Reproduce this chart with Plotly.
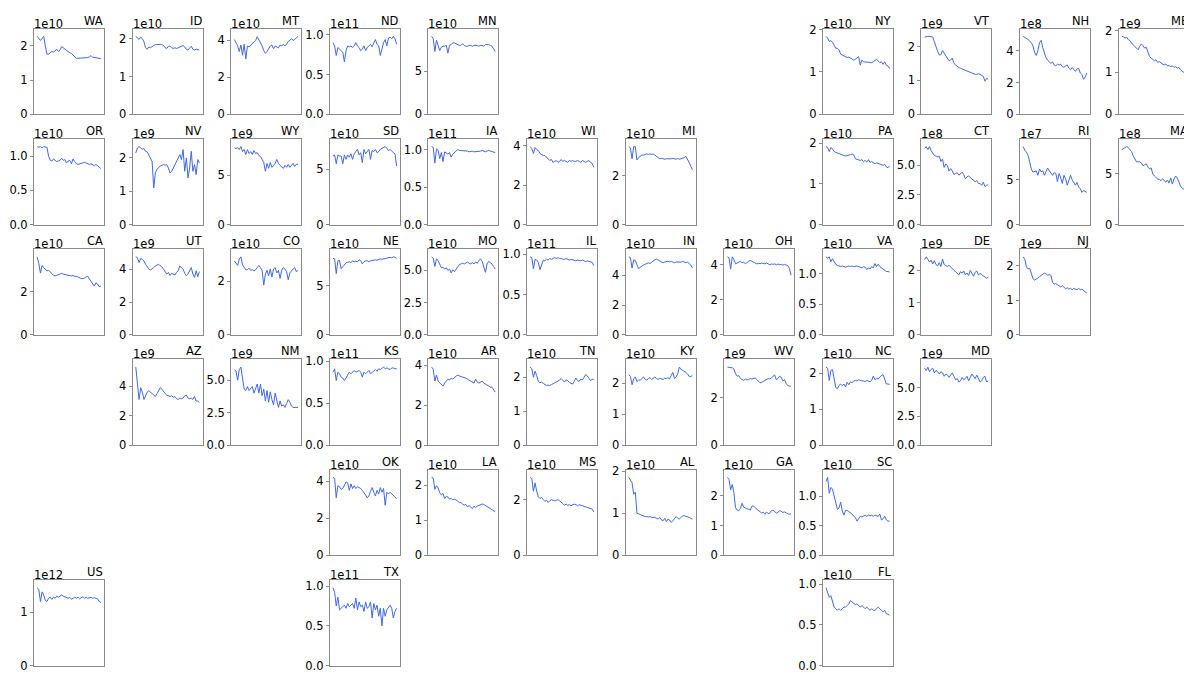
import plotly.graph_objects as go

# ---------------- data (values in units of the panel's exponent) ----------------
WA = [2.28,2.2,2.16,2.22,2.28,2.0,1.76,1.76,1.8,1.84,1.82,1.86,1.9,1.84,1.88,1.98,1.94,1.9,1.86,1.84,1.8,1.78,1.74,1.68,1.64,1.64,1.64,1.64,1.65,1.66,1.64,1.66,1.68,1.72,1.67,1.66,1.65,1.64,1.64,1.63]
ID = [2.06,2.02,1.98,2.04,2.0,1.92,1.76,1.72,1.78,1.76,1.8,1.82,1.84,1.85,1.84,1.85,1.84,1.82,1.76,1.74,1.8,1.8,1.76,1.74,1.76,1.74,1.76,1.78,1.8,1.82,1.78,1.72,1.7,1.74,1.8,1.72,1.7,1.72,1.7,1.7]
MT = [4.05,3.9,3.7,3.4,3.75,3.2,3.8,3.0,3.7,3.65,3.75,3.8,3.9,4.0,4.2,4.05,3.85,3.7,3.45,3.3,3.4,3.6,3.7,3.75,3.55,3.7,3.65,3.6,3.75,3.7,3.8,3.7,3.8,3.95,4.0,4.1,4.0,4.05,4.15,4.22]
ND = [0.9,0.86,0.74,0.84,0.82,0.8,0.78,0.66,0.8,0.86,0.85,0.86,0.84,0.86,0.9,0.86,0.84,0.8,0.82,0.86,0.8,0.84,0.86,0.88,0.85,0.9,0.94,0.88,0.86,0.74,0.82,0.9,0.94,0.86,0.96,0.97,0.95,0.98,0.95,0.88]
MN = [9.05,8.8,7.3,8.6,8.0,7.4,7.8,7.9,7.9,8.0,7.1,8.0,8.1,8.3,8.3,8.2,8.1,8.0,8.0,8.2,8.0,7.9,7.9,8.0,8.0,7.9,8.0,8.0,8.0,7.9,8.0,8.0,7.9,8.1,8.1,8.1,8.0,7.9,7.6,7.3]
NY = [1.84,1.8,1.72,1.74,1.7,1.62,1.56,1.56,1.52,1.42,1.4,1.38,1.37,1.34,1.35,1.32,1.3,1.28,1.3,1.34,1.36,1.16,1.28,1.24,1.24,1.23,1.23,1.22,1.22,1.24,1.28,1.3,1.26,1.22,1.24,1.18,1.24,1.16,1.14,1.08]
VT = [2.28,2.3,2.3,2.3,2.3,2.28,2.14,1.98,1.86,1.75,1.76,1.88,1.8,1.72,1.62,1.58,1.6,1.66,1.5,1.46,1.4,1.38,1.36,1.34,1.32,1.3,1.28,1.26,1.22,1.2,1.19,1.18,1.18,1.2,1.18,1.16,1.12,0.98,1.06,1.04]
NH = [4.9,4.85,4.75,4.7,4.6,4.5,4.3,3.9,3.7,4.0,4.5,4.65,4.2,3.8,3.55,3.4,3.3,3.2,3.3,3.1,3.05,3.15,3.1,3.15,3.0,2.95,3.05,3.1,2.9,2.8,2.95,2.8,2.7,2.85,2.9,2.6,2.5,2.2,2.35,2.6]
ME = [1.86,1.85,1.82,1.84,1.78,1.76,1.7,1.66,1.6,1.56,1.54,1.62,1.68,1.64,1.58,1.6,1.48,1.38,1.34,1.32,1.28,1.3,1.24,1.26,1.22,1.2,1.18,1.2,1.16,1.16,1.14,1.16,1.12,1.14,1.1,1.12,1.06,1.04,1.0,0.97]
OR = [1.14,1.13,1.14,1.12,1.14,1.14,1.13,1.0,0.94,0.93,0.96,0.94,0.92,0.93,0.94,0.97,0.94,0.95,0.9,0.93,0.94,0.89,0.96,0.92,0.89,0.88,0.89,0.9,0.9,0.91,0.9,0.89,0.88,0.89,0.87,0.86,0.88,0.86,0.84,0.82]
NV = [2.15,2.3,2.34,2.3,2.26,2.28,2.2,2.18,2.1,2.0,1.9,1.1,1.55,1.66,1.72,1.76,1.78,1.8,1.78,1.8,1.7,1.55,1.6,1.7,1.8,1.9,2.0,2.1,1.95,2.25,1.6,2.0,1.4,1.7,2.2,1.6,1.8,1.5,1.95,1.85]
WY = [7.8,7.7,7.8,7.6,7.9,7.4,7.6,7.1,7.6,7.2,7.4,7.1,7.5,7.2,7.3,7.0,6.9,6.6,6.3,5.4,6.2,5.7,6.3,5.8,6.0,6.2,6.6,6.2,6.0,5.8,5.7,6.0,5.8,6.1,5.8,6.0,6.2,5.9,6.1,6.1]
SD = [6.2,6.3,5.5,6.3,6.2,6.2,5.5,6.3,5.9,6.3,6.1,6.4,5.9,6.4,6.6,6.8,6.3,6.5,5.6,6.8,6.4,6.6,6.8,5.9,6.7,6.6,6.8,6.5,6.6,6.8,6.9,7.0,7.05,6.9,6.7,6.8,6.6,6.5,6.4,5.3]
IA = [1.04,1.03,0.82,1.01,0.99,0.88,0.96,0.84,0.97,0.95,0.94,0.96,0.9,0.94,0.96,0.98,1.0,0.99,0.99,0.98,0.98,0.99,0.98,0.97,0.98,0.98,0.97,0.97,0.98,0.98,0.98,0.99,0.98,0.97,0.98,0.99,0.98,0.97,0.96,0.96]
WI = [3.95,3.85,3.6,3.9,3.8,3.75,3.6,3.55,3.5,3.5,3.4,3.3,3.25,3.3,3.15,3.2,3.25,3.15,3.2,3.3,3.2,3.25,3.2,3.15,3.25,3.2,3.25,3.2,3.2,3.25,3.2,3.15,3.25,3.2,3.15,3.2,3.25,3.15,3.1,2.9]
MI = [3.2,3.15,2.7,3.2,3.2,2.65,2.75,2.82,2.85,2.85,2.88,2.9,2.88,2.9,2.88,2.9,2.85,2.8,2.72,2.7,2.72,2.7,2.68,2.7,2.7,2.68,2.7,2.72,2.7,2.68,2.72,2.68,2.7,2.72,2.75,2.8,2.7,2.55,2.4,2.25]
PA = [1.92,1.9,1.8,1.9,1.86,1.8,1.78,1.76,1.74,1.72,1.7,1.7,1.69,1.7,1.7,1.72,1.74,1.72,1.62,1.6,1.6,1.58,1.6,1.55,1.58,1.54,1.6,1.53,1.55,1.52,1.5,1.52,1.5,1.5,1.48,1.46,1.48,1.42,1.4,1.45]
CT = [6.4,6.55,6.3,6.55,6.2,6.0,5.8,5.75,5.7,5.75,5.3,5.5,4.8,5.1,4.95,4.5,4.7,4.5,4.2,4.3,4.35,4.15,4.25,4.4,4.2,3.85,4.0,4.1,3.95,3.85,3.7,3.6,3.7,3.45,3.45,3.3,3.55,3.2,3.3,3.35]
RI = [8.7,8.3,8.1,7.7,7.0,6.2,5.85,5.9,6.0,5.5,6.2,5.9,6.0,5.5,5.9,6.3,6.0,5.8,5.5,5.8,5.7,4.8,5.7,5.2,4.6,5.5,5.1,4.4,4.9,5.5,5.0,4.6,4.4,4.7,4.2,4.0,3.6,3.8,3.7,3.6]
MA = [7.4,7.5,7.6,7.7,7.6,7.45,7.2,6.8,6.4,6.2,6.2,6.2,6.1,5.8,5.9,6.0,5.7,5.5,5.6,5.0,4.8,4.6,4.5,4.45,4.35,4.5,4.3,4.2,4.4,4.1,4.6,4.0,4.5,4.8,4.6,4.2,3.8,3.6,3.5,3.4]
CA = [3.6,3.3,2.85,3.2,3.1,3.0,2.95,2.98,2.9,2.85,2.75,2.72,2.75,2.8,2.82,2.84,2.8,2.78,2.78,2.76,2.74,2.72,2.74,2.7,2.7,2.66,2.62,2.6,2.6,2.62,2.68,2.7,2.58,2.46,2.32,2.25,2.4,2.35,2.22,2.25]
UT = [4.75,4.7,4.4,4.65,4.6,4.5,4.3,4.15,4.0,3.95,4.0,4.1,4.2,4.25,4.3,4.2,4.15,4.0,3.8,3.7,3.8,3.62,3.75,3.7,3.65,3.8,3.9,4.2,4.1,4.0,3.75,3.6,3.7,3.9,4.1,3.7,3.5,3.9,3.55,3.85]
CO = [2.75,2.65,2.58,2.82,2.9,2.6,2.5,2.42,2.42,2.48,2.4,2.42,2.38,2.42,2.5,2.58,2.5,2.4,1.85,2.25,2.4,2.2,2.45,2.15,2.45,2.5,2.3,2.4,2.1,2.4,2.5,2.45,2.35,2.05,2.3,2.4,2.45,2.5,2.35,2.4]
NE = [7.75,7.7,6.2,7.5,7.55,6.7,6.9,7.15,7.3,7.35,7.4,7.3,7.5,7.4,7.45,7.4,7.6,7.5,7.2,7.4,7.5,7.5,7.4,7.5,7.55,7.6,7.6,7.55,7.6,7.7,7.65,7.7,7.75,7.8,7.8,7.85,7.8,7.9,7.85,7.75]
MO = [6.05,5.95,5.3,5.9,5.75,5.4,5.2,5.25,5.1,5.2,5.0,5.1,4.8,5.05,4.9,5.1,5.3,5.45,5.5,5.55,5.5,5.6,5.65,5.55,5.5,5.6,5.5,5.65,5.55,5.75,5.9,5.7,5.3,4.85,5.5,5.7,5.6,5.5,5.3,5.1]
IL = [0.97,0.96,0.82,0.94,0.93,0.9,0.81,0.88,0.93,0.92,0.94,0.93,0.95,0.94,0.95,0.96,0.95,0.96,0.95,0.95,0.94,0.94,0.95,0.94,0.93,0.94,0.93,0.93,0.92,0.93,0.92,0.92,0.93,0.92,0.91,0.92,0.91,0.91,0.9,0.86]
IN = [5.25,5.2,4.5,5.05,5.0,4.7,4.45,4.55,4.65,4.7,4.75,4.8,4.85,4.8,4.9,5.0,5.05,5.1,5.05,5.0,4.9,4.85,4.9,4.95,4.95,4.9,4.95,4.9,4.85,4.9,4.9,4.85,4.9,4.95,4.9,4.85,4.9,4.8,4.7,4.5]
OH = [4.45,4.4,3.75,4.45,4.3,4.05,4.1,4.15,4.2,4.1,4.15,4.05,4.15,4.2,4.25,4.2,4.15,4.1,4.05,4.08,4.06,4.1,4.06,4.05,4.1,4.05,4.0,4.05,4.02,4.05,4.0,4.04,4.0,4.02,3.98,4.02,4.0,3.95,3.8,3.4]
VA = [1.28,1.26,1.28,1.2,1.25,1.2,1.16,1.14,1.13,1.12,1.13,1.12,1.11,1.12,1.13,1.12,1.13,1.12,1.13,1.13,1.12,1.11,1.1,1.12,1.11,1.07,1.1,1.08,1.12,1.1,1.17,1.12,1.16,1.12,1.1,1.08,1.05,1.04,1.04,1.03]
DE = [2.33,2.42,2.34,2.26,2.32,2.2,2.3,2.18,2.14,2.24,2.12,2.35,2.18,2.14,2.12,2.16,2.1,2.06,2.0,1.96,1.9,1.86,1.96,1.92,1.98,1.86,1.92,1.84,2.0,1.92,1.82,1.94,1.98,1.86,1.9,1.88,1.82,1.8,1.76,1.78]
NJ = [2.25,2.18,1.96,1.9,1.92,1.75,1.62,1.58,1.6,1.64,1.68,1.72,1.76,1.78,1.76,1.72,1.74,1.72,1.52,1.46,1.48,1.44,1.4,1.38,1.42,1.36,1.33,1.36,1.32,1.34,1.3,1.34,1.32,1.3,1.34,1.3,1.32,1.28,1.26,1.2]
AZ = [5.3,4.4,3.1,3.9,3.6,3.1,3.4,3.6,3.7,3.6,3.5,3.4,3.3,3.5,3.7,3.9,3.8,3.6,3.5,3.4,3.35,3.3,3.35,3.25,3.3,3.15,3.1,3.2,3.15,3.2,3.35,3.4,3.2,3.15,3.2,3.1,3.3,3.0,3.0,2.9]
NM = [5.8,5.7,5.0,5.8,6.0,5.2,4.3,4.2,4.5,4.2,4.4,4.5,4.0,4.3,4.7,4.0,4.7,3.8,4.3,3.4,4.2,3.3,4.1,3.5,3.1,4.0,3.3,2.9,3.4,3.0,3.1,2.9,3.2,3.5,3.3,3.0,2.9,2.9,2.95,2.9]
KS = [0.87,0.91,0.77,0.87,0.85,0.81,0.8,0.77,0.8,0.83,0.87,0.85,0.87,0.89,0.87,0.88,0.89,0.87,0.81,0.87,0.85,0.87,0.89,0.85,0.87,0.89,0.9,0.88,0.91,0.9,0.92,0.93,0.91,0.92,0.91,0.9,0.92,0.92,0.91,0.91]
AR = [3.9,3.8,3.2,3.5,3.2,3.1,3.0,2.95,3.1,3.2,3.3,3.25,3.35,3.3,3.4,3.45,3.5,3.45,3.42,3.4,3.38,3.35,3.3,3.25,3.2,3.15,3.1,3.3,3.15,3.1,3.15,3.2,3.1,3.05,3.0,2.95,2.9,2.9,2.8,2.65]
TN = [2.3,2.25,2.0,2.18,2.05,1.88,1.84,1.86,1.82,1.78,1.76,1.77,1.76,1.78,1.82,1.84,1.86,1.88,1.92,1.96,1.9,1.86,1.92,1.9,1.85,1.82,1.8,1.88,1.98,1.9,1.88,1.95,1.92,2.0,2.08,2.04,1.98,1.9,1.94,1.93]
KY = [2.28,2.22,1.95,2.15,2.2,2.05,2.1,2.1,2.15,2.2,2.12,2.1,2.15,2.18,2.12,2.15,2.2,2.15,2.12,2.16,2.14,2.12,2.16,2.15,2.18,2.14,2.25,2.35,2.15,2.2,2.3,2.52,2.45,2.42,2.4,2.35,2.3,2.22,2.22,2.24]
WV = [3.28,3.27,3.26,3.25,3.2,3.0,2.9,2.92,2.8,2.75,2.72,2.78,2.74,2.76,2.8,2.78,2.8,2.82,2.76,2.7,2.62,2.64,2.68,2.72,2.76,2.8,2.78,2.82,2.9,2.95,2.75,2.8,2.9,2.85,2.7,2.75,2.6,2.5,2.48,2.48]
NC = [2.17,2.14,1.8,2.08,2.1,1.85,1.6,1.57,1.66,1.7,1.65,1.7,1.62,1.75,1.68,1.76,1.74,1.78,1.8,1.78,1.82,1.8,1.8,1.78,1.77,1.8,1.78,1.76,1.8,1.92,1.82,1.86,1.84,1.9,1.94,1.96,1.8,1.7,1.7,1.69]
MD = [6.7,6.5,6.8,6.4,6.6,6.7,6.3,6.5,6.4,6.2,6.4,6.3,6.0,6.2,6.1,5.9,6.1,6.3,6.0,5.7,5.8,5.5,5.6,5.9,5.7,5.8,6.0,5.6,5.9,6.2,6.0,5.8,6.1,5.8,5.5,5.6,5.9,6.0,5.5,5.6]
OK = [4.2,4.15,3.1,3.75,3.7,3.55,3.6,3.75,3.95,3.9,3.5,3.85,3.6,3.75,3.6,3.7,3.65,3.6,3.5,3.4,3.25,3.1,3.2,3.45,3.65,3.4,3.2,3.5,3.3,3.65,3.4,3.6,2.7,3.4,3.3,3.4,3.3,3.2,3.1,3.05]
LA = [2.22,2.2,1.88,1.98,1.92,1.78,1.72,1.76,1.62,1.68,1.66,1.6,1.62,1.58,1.6,1.58,1.55,1.5,1.5,1.46,1.43,1.45,1.38,1.42,1.36,1.33,1.4,1.36,1.4,1.42,1.44,1.46,1.45,1.42,1.4,1.38,1.35,1.3,1.28,1.24]
MS = [2.8,2.76,2.3,2.6,2.3,2.1,2.04,2.08,2.0,1.94,1.98,1.9,1.96,2.0,1.98,1.96,1.98,2.0,1.96,1.92,1.86,1.8,1.84,1.8,1.82,1.78,1.8,1.84,1.82,1.78,1.82,1.8,1.78,1.76,1.76,1.72,1.7,1.68,1.66,1.56]
AL = [1.85,1.78,1.72,1.45,1.5,1.0,0.98,0.98,0.96,0.94,0.92,0.92,0.91,0.92,0.9,0.9,0.9,0.88,0.86,0.9,0.84,0.82,0.88,0.8,0.86,0.84,0.78,0.82,0.88,0.92,0.88,0.86,0.9,0.94,0.94,0.92,0.9,0.9,0.88,0.86]
GA = [2.62,2.55,2.2,2.38,2.1,1.6,1.52,1.5,1.58,1.75,1.62,1.58,1.56,1.55,1.52,1.65,1.66,1.6,1.56,1.5,1.48,1.42,1.45,1.38,1.46,1.4,1.42,1.5,1.52,1.46,1.42,1.45,1.5,1.48,1.44,1.46,1.42,1.4,1.38,1.4]
SC = [1.25,1.32,1.05,1.15,1.12,1.0,0.85,0.78,0.8,0.9,0.75,0.68,0.76,0.76,0.74,0.72,0.7,0.66,0.64,0.58,0.62,0.66,0.65,0.66,0.68,0.66,0.68,0.67,0.68,0.66,0.68,0.67,0.66,0.7,0.6,0.62,0.66,0.6,0.58,0.58]
US = [1.46,1.42,1.2,1.38,1.32,1.22,1.2,1.26,1.28,1.24,1.28,1.26,1.3,1.28,1.3,1.32,1.3,1.29,1.28,1.26,1.28,1.24,1.26,1.28,1.26,1.28,1.25,1.27,1.29,1.26,1.28,1.26,1.27,1.28,1.26,1.27,1.26,1.25,1.2,1.18]
TX = [0.98,0.92,0.75,0.86,0.7,0.72,0.74,0.76,0.72,0.78,0.74,0.76,0.78,0.72,0.85,0.7,0.8,0.74,0.76,0.68,0.8,0.72,0.74,0.8,0.6,0.78,0.7,0.76,0.62,0.72,0.5,0.72,0.62,0.7,0.74,0.76,0.72,0.6,0.68,0.72]
FL = [0.96,0.9,0.84,0.86,0.78,0.72,0.7,0.68,0.7,0.68,0.7,0.72,0.72,0.74,0.76,0.8,0.78,0.76,0.75,0.76,0.74,0.72,0.74,0.72,0.7,0.72,0.7,0.68,0.7,0.68,0.68,0.7,0.72,0.7,0.68,0.66,0.68,0.64,0.63,0.62]

series = dict(WA=WA, ID=ID, MT=MT, ND=ND, MN=MN, NY=NY, VT=VT, NH=NH, ME=ME,
              OR=OR, NV=NV, WY=WY, SD=SD, IA=IA, WI=WI, MI=MI, PA=PA, CT=CT, RI=RI, MA=MA,
              CA=CA, UT=UT, CO=CO, NE=NE, MO=MO, IL=IL, IN=IN, OH=OH, VA=VA, DE=DE, NJ=NJ,
              AZ=AZ, NM=NM, KS=KS, AR=AR, TN=TN, KY=KY, WV=WV, NC=NC, MD=MD,
              OK=OK, LA=LA, MS=MS, AL=AL, GA=GA, SC=SC,
              US=US, TX=TX, FL=FL)

# tile position (row, col) of each state
tiles = dict(WA=(0,0), ID=(0,1), MT=(0,2), ND=(0,3), MN=(0,4), NY=(0,8), VT=(0,9), NH=(0,10), ME=(0,11),
             OR=(1,0), NV=(1,1), WY=(1,2), SD=(1,3), IA=(1,4), WI=(1,5), MI=(1,6), PA=(1,8), CT=(1,9), RI=(1,10), MA=(1,11),
             CA=(2,0), UT=(2,1), CO=(2,2), NE=(2,3), MO=(2,4), IL=(2,5), IN=(2,6), OH=(2,7), VA=(2,8), DE=(2,9), NJ=(2,10),
             AZ=(3,1), NM=(3,2), KS=(3,3), AR=(3,4), TN=(3,5), KY=(3,6), WV=(3,7), NC=(3,8), MD=(3,9),
             OK=(4,3), LA=(4,4), MS=(4,5), AL=(4,6), GA=(4,7), SC=(4,8),
             US=(5,0), TX=(5,3), FL=(5,8))

# axis exponent (offset text)
offsets = dict(WA="1e10", ID="1e10", MT="1e10", ND="1e11", MN="1e10", NY="1e10", VT="1e9", NH="1e8", ME="1e9",
               OR="1e10", NV="1e9", WY="1e9", SD="1e10", IA="1e11", WI="1e10", MI="1e10", PA="1e10", CT="1e8", RI="1e7", MA="1e8",
               CA="1e10", UT="1e9", CO="1e10", NE="1e10", MO="1e10", IL="1e11", IN="1e10", OH="1e10", VA="1e10", DE="1e9", NJ="1e9",
               AZ="1e9", NM="1e9", KS="1e11", AR="1e10", TN="1e10", KY="1e10", WV="1e9", NC="1e10", MD="1e9",
               OK="1e10", LA="1e10", MS="1e10", AL="1e10", GA="1e10", SC="1e10",
               US="1e12", TX="1e11", FL="1e10")

T012 = ["0", "1", "2"]
T024 = ["0", "2", "4"]
T02 = ["0", "2"]
T05 = ["0", "5"]
T01 = ["0", "1"]
THALF = ["0.0", "0.5", "1.0"]
TQ = ["0.0", "2.5", "5.0"]
tick_labels = dict(WA=T012, ID=T012, MT=T024, ND=THALF, MN=T05, NY=T012, VT=T012, NH=T024, ME=T012,
                   OR=THALF, NV=T012, WY=T05, SD=T05, IA=THALF, WI=T024, MI=T02, PA=T012, CT=TQ, RI=T05, MA=T05,
                   CA=T02, UT=T024, CO=T02, NE=T05, MO=TQ, IL=THALF, IN=T024, OH=T024, VA=THALF, DE=T012, NJ=T012,
                   AZ=T024, NM=TQ, KS=THALF, AR=T024, TN=T012, KY=T012, WV=T02, NC=T012, MD=TQ,
                   OK=T024, LA=T012, MS=T02, AL=T012, GA=T012, SC=THALF,
                   US=T01, TX=THALF, FL=THALF)

# ---------------- layout geometry ----------------
W, H = 1184, 679
COL0, COLSTEP, PW = 34.0, 98.6, 70.0
ROW0, ROWSTEP, PH = 23.0, 112.4, 87.5
SPINE = "#8a8a8a"
LINE = "#4169E1"
FONT = dict(family="DejaVu Sans", size=11.5, color="black")

fig = go.Figure()
annotations = []
layout = {}

for i, (st, vals) in enumerate(series.items(), start=1):
    r, c = tiles[st]
    left = COL0 + COLSTEP * c
    right = left + PW
    top = ROW0 + ROWSTEP * r
    bottom = top + PH
    n = len(vals)
    xr0, xr1 = -0.05 * (n - 1), 1.05 * (n - 1)
    cut = right > W
    dom_r = min(right, W)
    if cut:
        xr1 = xr0 + (xr1 - xr0) * (W - left) / PW
    xa = f"x{i}" if i > 1 else "x"
    ya = f"y{i}" if i > 1 else "y"
    fig.add_trace(go.Scatter(x=list(range(n)), y=vals, mode="lines",
                             line=dict(color=LINE, width=1), xaxis=xa, yaxis=ya,
                             showlegend=False, hoverinfo="skip"))
    key = "" if i == 1 else str(i)
    ymax = 1.1 * max(vals)
    tl = tick_labels[st]
    layout[f"xaxis{key}"] = dict(domain=[left / W, dom_r / W], range=[xr0, xr1], anchor=ya,
                                 showticklabels=False, ticks="", showgrid=False, zeroline=False,
                                 showline=True, linecolor=SPINE, linewidth=1, mirror=True, fixedrange=True)
    layout[f"yaxis{key}"] = dict(domain=[1 - bottom / H, 1 - top / H], range=[0, ymax], anchor=xa,
                                 tickvals=[float(t) for t in tl], ticktext=tl, ticks="outside",
                                 ticklen=3, tickwidth=1, tickcolor=SPINE, tickfont=FONT,
                                 showgrid=False, zeroline=False, showline=True, linecolor=SPINE,
                                 linewidth=1, mirror=(not cut), fixedrange=True)
    annotations.append(dict(text=st, xref="paper", yref="paper", x=right / W, y=1 - top / H,
                            xanchor="right", yanchor="bottom", showarrow=False, font=FONT,
                            yshift=-1, xshift=1))
    annotations.append(dict(text=offsets[st], xref="paper", yref="paper", x=left / W, y=1 - top / H,
                            xanchor="left", yanchor="bottom", showarrow=False, font=FONT,
                            yshift=-4, xshift=-2))

fig.update_layout(width=W, height=H, margin=dict(l=0, r=0, t=0, b=0), autosize=False,
                  paper_bgcolor="white", plot_bgcolor="white", font=FONT, hovermode=False,
                  annotations=annotations, showlegend=False, **layout)
# remove the browser's default 8px body margin so the figure sits at the window's corner
fig.write_html("out.html", config={"displayModeBar": False, "staticPlot": True},
               post_script="document.body.style.margin='0px';")
